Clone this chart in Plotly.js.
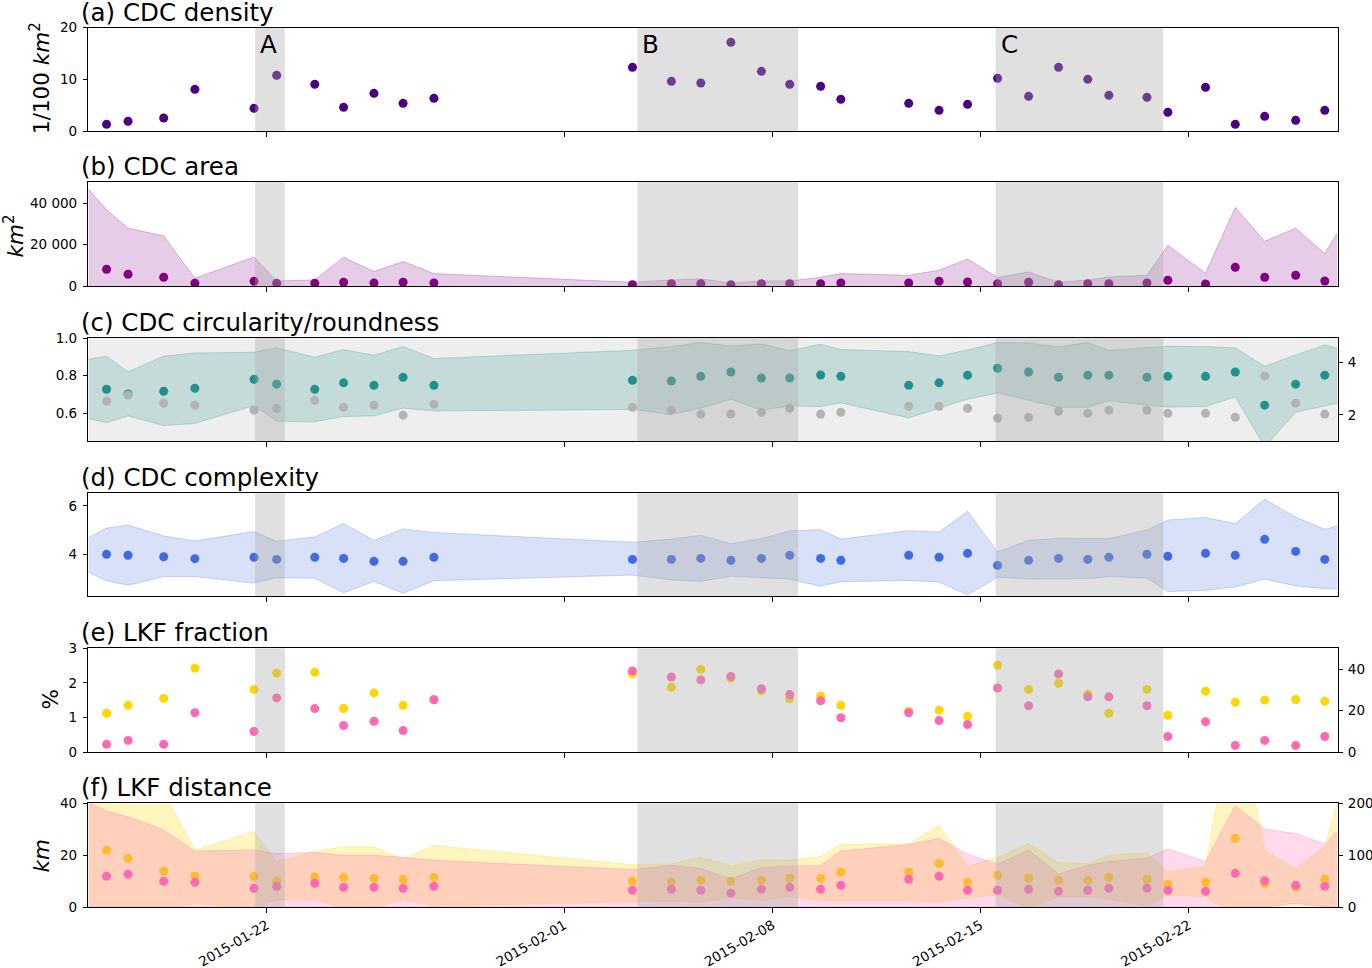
<!DOCTYPE html>
<html><head><meta charset="utf-8">
<script src="https://cdn.plot.ly/plotly-3.0.1.min.js"></script>
<style>html,body{margin:0;padding:0;background:#fff}#chart{width:1372px;height:968px}</style>
</head><body><div id="chart"></div>
<script>
// ---------------- data ----------------
const dates = ['2015-01-16 14:40','2015-01-17 08:00','2015-01-18 12:45','2015-01-19 13:55','2015-01-21 13:40','2015-01-22 07:55','2015-01-23 14:40','2015-01-24 13:55','2015-01-25 14:25','2015-01-26 13:55','2015-01-27 14:50','2015-02-03 07:00','2015-02-04 14:25','2015-02-05 14:10','2015-02-06 14:25','2015-02-07 15:05','2015-02-08 13:55','2015-02-09 14:50','2015-02-10 07:10','2015-02-12 13:55','2015-02-13 14:25','2015-02-14 13:25','2015-02-15 13:40','2015-02-16 14:40','2015-02-17 14:50','2015-02-18 14:25','2015-02-19 07:25','2015-02-20 14:10','2015-02-21 07:00','2015-02-22 13:25','2015-02-23 13:25','2015-02-24 13:10','2015-02-25 14:10','2015-02-26 13:40'];
const fillStart = '2015-01-16 00:00';
const fillEnd = '2015-02-27 00:00';
const xRange = ['2015-01-16 00:00', '2015-02-27 00:00'];

const xTickVals = ['2015-01-22','2015-02-01','2015-02-08','2015-02-15','2015-02-22'];
const xTickText = ['2015-01-22','2015-02-01','2015-02-08','2015-02-15','2015-02-22'];

const spanNames = ['A','B','C'];
const spanStart = ['2015-01-21 14:30','2015-02-03 11:00','2015-02-15 12:00'];
const spanEnd   = ['2015-01-22 14:30','2015-02-08 20:40','2015-02-21 03:20'];

// (a) CDC density
const density = [1.29,1.87,2.52,8.06,4.39,10.77,9.03,4.58,7.29,5.35,6.32,12.32,9.61,9.29,17.16,11.55,9.03,8.65,6.13,5.35,4.0,5.16,10.19,6.71,12.32,10.0,6.90,6.52,3.61,8.45,1.29,2.84,2.06,4.0];

// (b) CDC area
const area = [8190,5780,4340,1450,2410,1450,1450,1930,1610,1930,1610,800,1280,1280,800,1280,1280,1280,1610,1610,2410,2090,1280,1930,800,1280,1280,1610,2890,1120,9150,4340,5300,2570];
const areaUpper = [46730,36780,27940,24250,3850,14130,2570,3050,13970,7070,11880,6100,1930,3050,3530,1610,2570,2570,4340,6100,5300,7710,13170,4180,6900,1930,3050,4500,5300,19750,6260,37900,21680,27940,15740,25860];

// (c) circularity (left) / roundness (right)
const circularity = [0.728,0.703,0.717,0.733,0.781,0.755,0.728,0.762,0.749,0.792,0.749,0.776,0.772,0.797,0.820,0.788,0.788,0.804,0.797,0.749,0.762,0.803,0.840,0.820,0.792,0.803,0.803,0.792,0.797,0.797,0.820,0.643,0.755,0.803];
const circUpper = [0.888,0.904,0.822,0.904,0.922,0.925,0.950,0.899,0.940,0.909,0.956,0.892,0.936,0.956,0.977,0.959,0.970,0.934,0.968,0.940,0.929,0.906,0.938,0.977,0.975,0.954,0.977,0.936,0.950,0.957,0.956,0.948,0.851,0.911,0.966,0.945];
const circLower = [0.570,0.550,0.586,0.534,0.545,0.641,0.557,0.554,0.582,0.586,0.627,0.612,0.620,0.593,0.627,0.675,0.616,0.639,0.636,0.655,0.575,0.628,0.675,0.708,0.670,0.632,0.632,0.666,0.644,0.632,0.636,0.687,0.420,0.605,0.639,0.653];
const roundness = [2.52,2.75,2.45,2.37,2.18,2.25,2.56,2.29,2.37,1.99,2.41,2.29,2.18,2.03,2.03,2.10,2.25,2.03,2.10,2.33,2.33,2.25,1.87,1.91,2.14,2.06,2.18,2.18,2.06,2.06,1.91,3.49,2.45,2.03];

// (d) CDC complexity
const complexity = [4.0,3.96,3.90,3.82,3.88,3.79,3.88,3.83,3.71,3.71,3.88,3.79,3.79,3.83,3.75,3.83,3.96,3.83,3.75,3.96,3.88,4.04,3.54,3.75,3.83,3.79,3.88,4.0,3.92,4.04,3.96,4.62,4.12,3.79];
const complexUpper = [4.69,5.09,5.21,4.76,4.55,4.94,4.54,4.72,5.28,4.58,5.05,4.90,4.50,4.63,4.79,4.44,4.65,4.97,5.02,4.63,4.98,4.92,5.78,4.10,4.58,4.66,4.65,4.65,5.01,5.42,5.52,5.27,6.28,5.54,5.03,5.19];
const complexLower = [3.26,2.91,2.72,3.08,3.08,2.81,3.03,3.01,2.41,2.88,2.39,2.91,3.14,2.94,2.88,3.09,3.03,2.97,2.68,2.87,2.92,2.86,2.32,3.05,2.98,2.99,2.99,3.08,3.01,2.46,2.51,2.65,2.98,2.69,2.58,2.57];

// (e) LKF fraction: yellow (left, %), pink (right)
const fracYellow = [1.12,1.35,1.55,2.42,1.81,2.28,2.31,1.26,1.71,1.35,1.52,2.26,1.87,2.39,2.14,1.77,1.54,1.62,1.35,1.18,1.21,1.03,2.51,1.81,1.99,1.67,1.12,1.81,1.06,1.76,1.44,1.50,1.52,1.47];
const fracPink = [3.7,5.6,3.7,19.0,9.9,26.2,21.0,12.8,14.9,10.4,25.3,39.2,36.3,34.9,36.6,30.6,27.8,24.8,16.6,19.0,15.2,13.3,31.0,22.4,37.8,26.7,26.7,22.4,7.5,14.7,3.2,5.6,3.2,7.5];

// (f) LKF distance: yellow (left, km), pink (right)
const distYellow = [21.9,18.8,13.8,12.0,11.8,10.0,11.6,11.4,11.1,10.7,11.4,10.0,9.6,10.3,9.9,10.3,11.1,11.1,13.4,13.4,16.8,9.5,12.2,11.1,10.3,10.3,11.4,10.7,8.7,9.5,26.5,9.1,7.6,10.7];
const distYellowUpper = [45,50,47,44.5,22.0,29.1,17.5,21.3,23.3,23.1,18.4,23.7,16.3,16.6,19.2,15.9,18.1,18.0,19.4,24.3,24.3,31.4,15.6,19.2,24.4,17.2,16.7,19.9,21.0,13.5,15.6,80,21.9,14.7,23.3,41];
const distYellowLower = [-2,-2,-2,-1,1.4,-0.5,2.7,2.8,-0.5,-0.5,3.0,0.4,2.1,2.3,1.8,3.5,2.6,4.0,2.6,2.4,2.4,1.9,3.6,4.6,-0.5,4.0,3.9,3.0,0.3,4.6,4.0,-3,-3,-3,-3,-3];
const distPink = [59.2,63.0,49.5,47.6,36.0,39.9,45.7,37.9,37.9,36.0,39.9,32.2,34.1,32.2,26.4,34.1,37.9,34.1,41.8,53.4,59.2,32.2,32.2,34.1,30.2,32.2,36.0,36.0,32.2,30.2,64.9,50.8,41.8,39.9];
const distPinkUpper = [202,185,174,148.5,108,110,103,105,99.7,99.7,95.8,90,72,80.4,74.6,54.7,75.9,79.1,79.7,108,120,132.5,101.6,83.0,110,63.7,80.4,87.4,94.5,111.9,87.4,195.5,150.5,141.5,120.9,146.6];
const distPinkLower = [0,0,0,0,0,0,0,0,0,0,0,0,0,0,0,0,0,0,0,0,0,0,0,0,0,0,0,0,0,0,0,0,0,7,0,0];

// ---------------- build ----------------
const fillDates = [fillStart].concat(dates, [fillEnd]);
const FONT = 'DejaVu Sans, sans-serif';
const W = 1372, H = 968;
const px2y = p => 1 - p / H;

const dom = {
  a: [px2y(131.0), px2y(27.7)],
  b: [px2y(286.3), px2y(182.3)],
  c: [px2y(441.3), px2y(338.3)],
  d: [px2y(596.0), px2y(493.3)],
  e: [px2y(752.0), px2y(648.3)],
  f: [px2y(907.0), px2y(803.3)]
};
const xDom = [88.4 / W, 1337.6 / W];

function dots(x, y, xa, ya, color) {
  return {type: 'scatter', mode: 'markers', x: x, y: y, xaxis: xa, yaxis: ya,
    marker: {color: color, size: 9, line: {width: 0}}, hoverinfo: 'skip', showlegend: false};
}
function band(x, lo, hi, xa, ya, rgb, a) {
  const lc = 'rgba(' + rgb + ',' + (a + 0.05) + ')';
  return [
    {type: 'scatter', mode: 'lines', x: x, y: lo, xaxis: xa, yaxis: ya,
      line: {color: lc, width: 1}, hoverinfo: 'skip', showlegend: false},
    {type: 'scatter', mode: 'lines', x: x, y: hi, xaxis: xa, yaxis: ya, fill: 'tonexty',
      fillcolor: 'rgba(' + rgb + ',' + a + ')',
      line: {color: lc, width: 1}, hoverinfo: 'skip', showlegend: false}
  ];
}

const traces = [];
// (a)
traces.push(dots(dates, density, 'x', 'y', '#4b0082'));
// (b)
traces.push({type: 'scatter', mode: 'lines', x: fillDates, y: areaUpper, xaxis: 'x2', yaxis: 'y2',
  fill: 'tozeroy', fillcolor: 'rgba(128,0,128,0.2)', line: {color: 'rgba(128,0,128,0.25)', width: 1},
  hoverinfo: 'skip', showlegend: false});
traces.push(dots(dates, area, 'x2', 'y2', '#800080'));
// (c)
traces.push(...band(fillDates, circLower, circUpper, 'x3', 'y3', '33,145,140', 0.2));
traces.push(dots(dates, circularity, 'x3', 'y3', '#21918c'));
traces.push(dots(dates, roundness, 'x3', 'y4', '#b3b3b3'));
// (d)
traces.push(...band(fillDates, complexLower, complexUpper, 'x4', 'y5', '65,105,225', 0.2));
traces.push(dots(dates, complexity, 'x4', 'y5', '#4169e1'));
// (e)
traces.push(dots(dates, fracYellow, 'x5', 'y6', '#ffd700'));
traces.push(dots(dates, fracPink, 'x5', 'y7', '#ff69b4'));
// (f)
traces.push(...band(fillDates, distYellowLower, distYellowUpper, 'x6', 'y8', '255,215,0', 0.25));
traces.push(dots(dates, distYellow, 'x6', 'y8', '#ffd700'));
traces.push(...band(fillDates, distPinkLower, distPinkUpper, 'x6', 'y9', '255,105,180', 0.25));
traces.push(dots(dates, distPink, 'x6', 'y9', '#ff69b4'));

const tickFont = {family: FONT, size: 13.5, color: '#000'};
function xAxis(anchor, labels) {
  return {domain: xDom, anchor: anchor, type: 'date', range: xRange,
    tickmode: 'array', tickvals: xTickVals, ticktext: xTickText, showticklabels: labels,
    tickangle: labels ? -30 : 0, ticks: 'outside', ticklen: 4.5, tickwidth: 1, tickcolor: '#000',
    showline: true, linecolor: '#000', linewidth: 1, mirror: true,
    showgrid: false, zeroline: false, tickfont: tickFont};
}
function yAxis(anchor, d, range, tv, tt) {
  return {domain: d, anchor: anchor, range: range, tickmode: 'array', tickvals: tv, ticktext: tt,
    ticks: 'outside', ticklen: 4.5, tickwidth: 1, tickcolor: '#000', ticklabelstandoff: 3,
    showline: true, linecolor: '#000', linewidth: 1, mirror: true,
    showgrid: false, zeroline: false, tickfont: tickFont};
}
function yRight(anchor, over, d, range, tv, tt) {
  return {domain: d, anchor: anchor, overlaying: over, side: 'right', range: range,
    tickmode: 'array', tickvals: tv, ticktext: tt,
    ticks: 'outside', ticklen: 4.5, tickwidth: 1, tickcolor: '#000', ticklabelstandoff: 2,
    showline: false, showgrid: false, zeroline: false, tickfont: tickFont};
}

const layout = {
  width: W, height: H, margin: {l: 0, r: 0, t: 0, b: 0},
  paper_bgcolor: '#fff', plot_bgcolor: 'rgba(0,0,0,0)',
  font: {family: FONT, color: '#000'}, showlegend: false,
  xaxis: xAxis('y', false),
  xaxis2: xAxis('y2', false),
  xaxis3: xAxis('y3', false),
  xaxis4: xAxis('y5', false),
  xaxis5: xAxis('y6', false),
  xaxis6: xAxis('y8', true),
  yaxis: yAxis('x', dom.a, [0, 20], [0, 10, 20], ['0', '10', '20']),
  yaxis2: yAxis('x2', dom.b, [0, 50000], [0, 20000, 40000], ['0', '20 000', '40 000']),
  yaxis3: yAxis('x3', dom.c, [0.45, 1.0], [0.6, 0.8, 1.0], ['0.6', '0.8', '1.0']),
  yaxis4: yRight('x3', 'y3', dom.c, [0.99, 4.93], [2, 4], ['2', '4']),
  yaxis5: yAxis('x4', dom.d, [2.276, 6.524], [4, 6], ['4', '6']),
  yaxis6: yAxis('x5', dom.e, [0, 3], [0, 1, 2, 3], ['0', '1', '2', '3']),
  yaxis7: yRight('x5', 'y6', dom.e, [0, 50.2], [0, 20, 40], ['0', '20', '40']),
  yaxis8: yAxis('x6', dom.f, [0, 40], [0, 20, 40], ['0', '20', '40']),
  yaxis9: yRight('x6', 'y8', dom.f, [0, 200], [0, 100, 200], ['0', '100', '200']),
  shapes: [], annotations: []
};

// panel (c) background
layout.shapes.push({type: 'rect', xref: 'x3', yref: 'y3', x0: xRange[0], x1: xRange[1], y0: 0.45, y1: 1.0,
  fillcolor: '#eeeeee', line: {width: 0}, layer: 'below'});

// shaded periods on every panel
const panelKeys = ['a', 'b', 'c', 'd', 'e', 'f'];
for (let i = 0; i < spanStart.length; i++) {
  panelKeys.forEach(k => {
    layout.shapes.push({type: 'rect', xref: 'x', yref: 'paper', x0: spanStart[i], x1: spanEnd[i],
      y0: dom[k][0], y1: dom[k][1], fillcolor: 'rgba(169,169,169,0.36)', line: {width: 0}, layer: 'above'});
  });
  layout.annotations.push({xref: 'x', yref: 'paper', x: spanStart[i], y: px2y(27.5), xanchor: 'left', yanchor: 'top',
    xshift: 3, text: spanNames[i], showarrow: false, font: {family: FONT, size: 24.5, color: '#000'}});
}

// panel titles
const titles = ['(a) CDC density', '(b) CDC area', '(c) CDC circularity/roundness', '(d) CDC complexity', '(e) LKF fraction', '(f) LKF distance'];
panelKeys.forEach((k, i) => {
  layout.annotations.push({xref: 'paper', yref: 'paper', x: 79 / W, y: dom[k][1], xanchor: 'left', yanchor: 'bottom',
    yshift: -1, text: titles[i], showarrow: false, font: {family: FONT, size: 24.5, color: '#000'}});
});

// y-axis labels
const yLabels = [
  {t: '1/100 <i>km</i><sup>2</sup>', x: 40, y: 78},
  {t: '<i>km</i><sup>2</sup>', x: 13.5, y: 236},
  {t: '%', x: 49.5, y: 700},
  {t: '<i>km</i>', x: 40.5, y: 856}
];
yLabels.forEach(l => {
  layout.annotations.push({xref: 'paper', yref: 'paper', x: l.x / W, y: px2y(l.y), xanchor: 'center', yanchor: 'middle',
    textangle: -90, text: l.t, showarrow: false, font: {family: FONT, size: 21.5, color: '#000'}});
});

Plotly.newPlot('chart', traces, layout, {staticPlot: true, displayModeBar: false});
</script>
</body></html>
